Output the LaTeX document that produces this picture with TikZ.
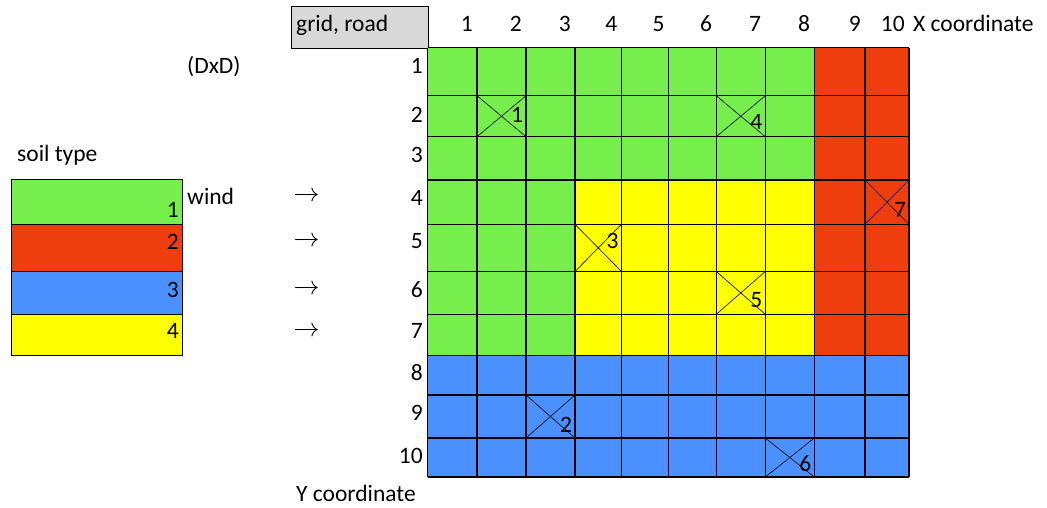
\documentclass[tikz,border=0pt]{standalone}
\usepackage{fontspec}
\setmainfont{Carlito}
\usepackage{tikz}

\tikzset{
  txt/.style={font=\fontsize{23.5}{28}\selectfont, inner sep=0pt},
  gridline/.style={line width=1.2pt},
  crossline/.style={line width=0.6pt}
}

\begin{document}
\begin{tikzpicture}[x=1pt, y=-1pt]
    \definecolor{soil1}{RGB}{118,238,76}
    \definecolor{soil2}{RGB}{239,62,14}
    \definecolor{soil3}{RGB}{74,145,255}
    \definecolor{soil4}{RGB}{255,255,0}
    \definecolor{hdrgray}{RGB}{217,217,217}
    \useasboundingbox (0,0) rectangle (1047,507);

    \def\colx{{427.7,477,526,575,621.5,668.7,716.3,765.3,814.3,865,909}}
    \def\rowy{{47.7,95.7,136.7,180,224.3,271.5,314.3,355.5,395,438,477}}

    % header box
    \node[draw, line width=1.2pt, fill=hdrgray, anchor=north west, minimum width=136.7pt,
          minimum height=42pt, inner sep=0pt] (hdr) at (291,6) {};
    \node[txt, anchor=base west] (hdrtxt) at (296,31) {grid, road};

    % soil areas
    \fill[soil1] (427.7,47.7) rectangle (814.3,355.5);
    \fill[soil2] (814.3,47.7) rectangle (909,355.5);
    \fill[soil4] (575,180) rectangle (814.3,355.5);
    \fill[soil3] (427.7,355.5) rectangle (909,477);

    % grid lines
    \foreach \i in {0,...,10}{
        \pgfmathsetmacro\xx{\colx[\i]}
        \pgfmathsetmacro\yy{\rowy[\i]}
        \draw[gridline] (\xx,47.7) -- (\xx,477);
        \draw[gridline] (427.7,\yy) -- (909,\yy);
    }

    % roads
    \foreach \c/\r/\n/\dy in {2/2/1/-1, 7/2/4/6, 10/4/7/7.5, 4/5/3/-7, 7/6/5/7, 3/9/2/8.5, 8/10/6/6.5}{
        \pgfmathsetmacro\xa{\colx[\c-1]}
        \pgfmathsetmacro\xb{\colx[\c]}
        \pgfmathsetmacro\ya{\rowy[\r-1]}
        \pgfmathsetmacro\yb{\rowy[\r]}
        \draw[crossline] (\xa,\ya) -- (\xb,\yb);
        \draw[crossline] (\xa,\yb) -- (\xb,\ya);
        \node[txt] (road\n) at (\xb-9,{(\ya+\yb)/2+\dy}) {\n};
    }

    % axes
    \foreach \i in {1,...,10}{
        \pgfmathsetmacro\xx{\colx[\i]}
        \node[txt, anchor=base east] (col\i) at (\xx-4,31) {\i};
    }
    \foreach \r/\yb in {1/73,2/122,3/162,4/205,5/248,6/297,7/338,8/380,9/420,10/463}{
        \node[txt, anchor=base east] (row\r) at (423,\yb) {\r};
    }
    \node[txt, anchor=base west] (xlabel) at (913,31) {X coordinate};
    \node[txt, anchor=base west] (ylabel) at (296,501) {Y coordinate};
    \node[txt, anchor=base west] (dxd) at (187,73) {(DxD)};

    % legend
    \node[txt, anchor=base west] (soiltxt) at (17,161) {soil type};
    \draw[line width=1.2pt, fill=soil1] (11.3,179.3) rectangle (182.7,224.3);
    \draw[line width=1.2pt, fill=soil2] (11.3,224.3) rectangle (182.7,271.7);
    \draw[line width=1.2pt, fill=soil3] (11.3,271.7) rectangle (182.7,314.3);
    \draw[line width=1.2pt, fill=soil4] (11.3,314.3) rectangle (182.7,355.7);
    \foreach \s/\yb in {1/217,2/249,3/297,4/338}{
        \node[txt, anchor=base east] (soil\s) at (179,\yb) {\s};
    }

    % wind
    \node[txt, anchor=base west] (wind) at (187,204) {wind};
    \foreach \k/\yc in {1/196.7,2/241.7,3/289.3,4/331.7}{
        \node[inner sep=0pt, font=\fontsize{20}{24}\selectfont] (wind\k) at (306.5,\yc) {\scalebox{1.25}{$\rightarrow$}};
    }
\end{tikzpicture}
\end{document}
